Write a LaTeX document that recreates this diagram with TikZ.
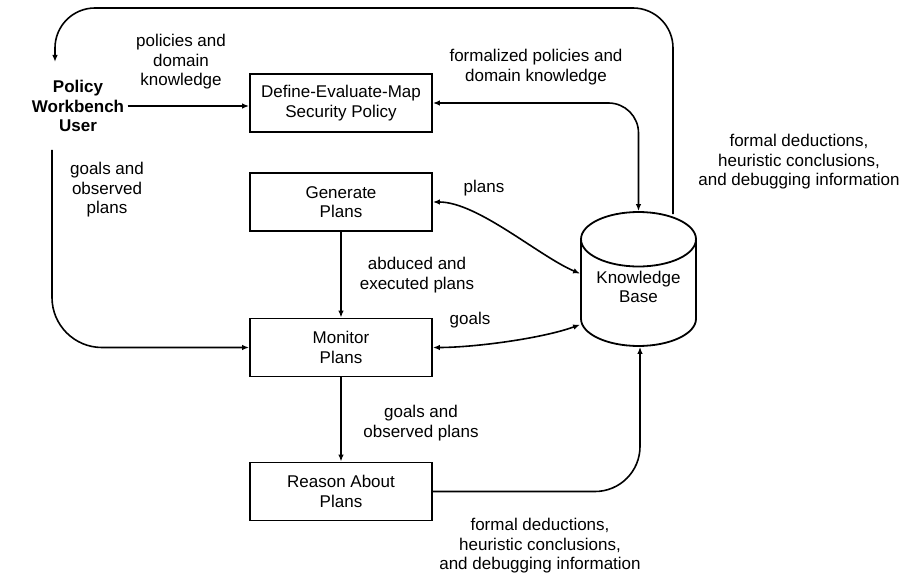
\documentclass[tikz,border=0pt]{standalone}
\usepackage{fontspec}
\setmainfont{Liberation Sans}
\usetikzlibrary{shapes.geometric,arrows.meta}

\begin{document}
\begin{tikzpicture}[x=1pt, y=-1pt,
    txt/.style={font=\fontsize{17}{19.5}\selectfont, align=center},
    stagebox/.style={draw, line width=1.8pt, txt, minimum width=182pt, minimum height=58pt, inner sep=2pt},
    flow/.style={line width=1.6pt, -{Latex[length=7pt,width=5.5pt]}},
    twoway/.style={line width=1.6pt, {Latex[length=7pt,width=5.5pt]}-{Latex[length=7pt,width=5.5pt]}}]
    \useasboundingbox (0,0) rectangle (900,575);
    % Draw nodes
    \node [txt, font=\fontsize{17}{19.5}\selectfont\bfseries] (user) at (78,106) {Policy\\Workbench\\User};
    \node [stagebox] (define) at (341,103) {Define-Evaluate-Map\\Security Policy};
    \node [stagebox] (generate) at (341,202) {Generate\\Plans};
    \node [stagebox] (monitor) at (341,347.5) {Monitor\\Plans};
    \node [stagebox] (reason) at (341,491.5) {Reason About\\Plans};
    \node [draw, txt, line width=1.8pt, cylinder, shape border rotate=90, aspect=0.6, text depth=22pt,
           minimum width=115pt, minimum height=128pt, anchor=shape center] (kb) at (638.5,279) {Knowledge\\Base};
    \coordinate (loopend) at (55,62);
    \coordinate (userfoot) at (52,150);
    % Draw connectors
    \draw [flow] (user.east) -- (user.east -| define.west);
    \draw [flow, rounded corners=40] ([xshift=34.5pt,yshift=-3pt]kb.north) |- (55,8) -- (loopend);
    \draw [twoway, rounded corners=30] (define.east) -| (kb.north);
    \draw [twoway] (generate.east) to[out=0, in=157, looseness=0.7] ([yshift=24pt]kb.west);
    \draw [twoway] (monitor.east) to[out=0, in=-160, looseness=0.7] ([yshift=-27pt]kb.west);
    \draw [flow] (generate) -- (monitor);
    \draw [flow] (monitor) -- (reason);
    \draw [flow, rounded corners=50] (userfoot) |- (monitor.west);
    \draw [flow, rounded corners=45] (reason.east) -| ([xshift=1.5pt]kb.south);
    % Labels
    \node [txt] (lpolicies) at (181,62) {policies and\\domain\\knowledge};
    \node [txt] (lformal) at (536,67) {formalized policies and\\domain knowledge};
    \node [txt] (ldeducetop) at (799,162) {formal deductions,\\heuristic conclusions,\\and debugging information};
    \node [txt] (lplans) at (484,188) {plans};
    \node [txt] (luser) at (107,190) {goals and\\observed\\plans};
    \node [txt] (labduced) at (417,275) {abduced and\\executed plans};
    \node [txt] (lgoals) at (470,320) {goals};
    \node [txt] (lobserved) at (421,423) {goals and\\observed plans};
    \node [txt] (ldeducebot) at (540,546) {formal deductions,\\heuristic conclusions,\\and debugging information};
\end{tikzpicture}
\end{document}
